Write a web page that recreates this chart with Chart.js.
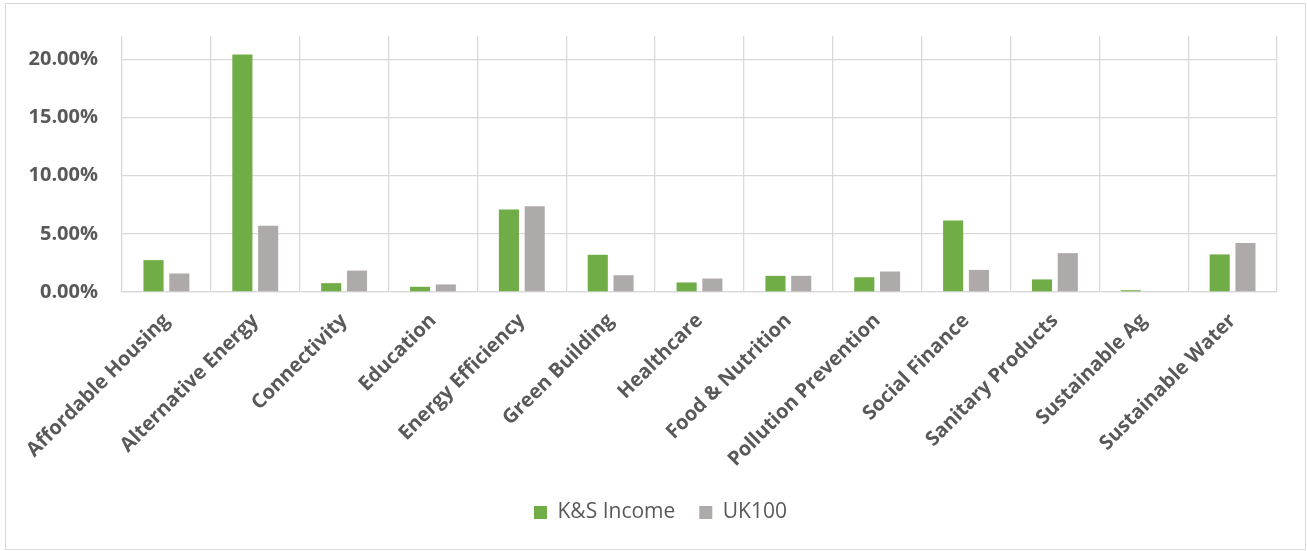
<!DOCTYPE html>
<html>
<head>
<meta charset="utf-8">
<script src="https://cdn.jsdelivr.net/npm/chart.js@4.4.0/dist/chart.umd.min.js"></script>
<style>
    html, body { margin: 0; padding: 0; background: #fff; }
    #wrap { position: absolute; left: 0; top: 0; width: 1307px; height: 551px; }
    #frame { position: absolute; left: 5px; top: 3px; width: 1301px; height: 547px; box-sizing: border-box; border: 1px solid #d9d9d9; pointer-events: none; }
</style>
</head>
<body>
<div id="wrap"><canvas id="chart"></canvas></div>
<div id="frame"></div>
<script>
    const categories = ['Affordable Housing', 'Alternative Energy', 'Connectivity', 'Education', 'Energy Efficiency',
        'Green Building', 'Healthcare', 'Food & Nutrition', 'Pollution Prevention', 'Social Finance',
        'Sanitary Products', 'Sustainable Ag', 'Sustainable Water'];
    const ksIncome = [2.74, 20.4, 0.76, 0.45, 7.08, 3.2, 0.82, 1.39, 1.27, 6.15, 1.08, 0.15, 3.23];
    const uk100 = [1.59, 5.69, 1.84, 0.65, 7.36, 1.44, 1.16, 1.39, 1.76, 1.9, 3.34, 0, 4.22];
    const yTicks = { min: 0, max: 22, step: 5 };

    document.addEventListener('DOMContentLoaded', function () {
        const textColor = '#595959';
        const gridColor = '#d9d9d9';
        const ctx = document.getElementById('chart').getContext('2d');

        // the legend is centred on the whole frame, not on the plot area
        const legendShift = {
            id: 'legendShift',
            afterLayout(chart) {
                if (chart.legend) chart.legend.left += 44;
            }
        };

        new Chart(ctx, {
            type: 'bar',
            data: {
                labels: categories,
                datasets: [
                    { label: 'K&S Income', data: ksIncome, backgroundColor: '#70ad47' },
                    { label: 'UK100', data: uk100, backgroundColor: '#aeaaaa' }
                ]
            },
            options: {
                responsive: true,
                maintainAspectRatio: false,
                animation: false,
                categoryPercentage: 0.58,
                barPercentage: 0.78,
                layout: { padding: { top: 33, right: 30, bottom: 18, left: 0 } },
                scales: {
                    x: {
                        grid: { color: gridColor, lineWidth: 1.3, drawTicks: false },
                        border: { color: gridColor, width: 1.3 },
                        ticks: {
                            color: textColor,
                            font: { family: 'Open Sans', size: 20, weight: 'bold' },
                            minRotation: 45,
                            maxRotation: 45,
                            autoSkip: false,
                            padding: 17
                        },
                        // keeps the plot bottom on the same line as the original
                        afterFit: function (scale) { scale.height = 186; }
                    },
                    y: {
                        min: yTicks.min,
                        max: yTicks.max,
                        grid: { color: gridColor, lineWidth: 1.3, drawTicks: false },
                        border: { display: false },
                        ticks: {
                            stepSize: yTicks.step,
                            includeBounds: false,
                            color: textColor,
                            padding: 24,
                            font: { family: 'Open Sans', size: 20, weight: 'bold' },
                            callback: function (value) { return value.toFixed(2) + '%'; }
                        },
                        afterFit: function (scale) { scale.width = 122; }
                    }
                },
                plugins: {
                    tooltip: { enabled: false },
                    legend: {
                        position: 'bottom',
                        labels: {
                            color: textColor,
                            boxWidth: 13,
                            boxHeight: 13,
                            padding: 24,
                            font: { family: 'Open Sans', size: 21 }
                        }
                    }
                }
            },
            plugins: [legendShift]
        });
    });
</script>
</body>
</html>
